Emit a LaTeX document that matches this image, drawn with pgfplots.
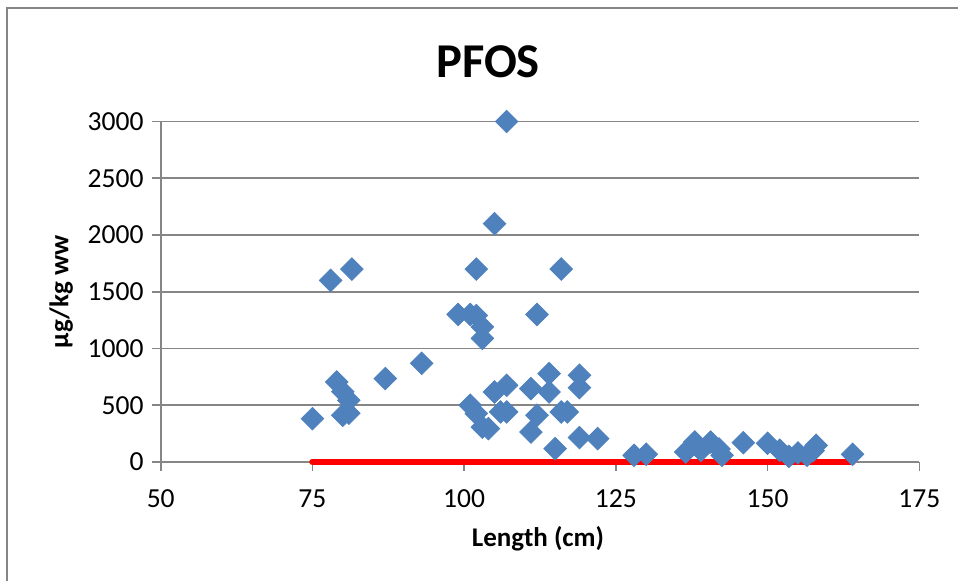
\documentclass[border=0pt]{standalone}
\usepackage{fontspec}
\setmainfont{Carlito}
\usepackage{pgfplots}
\pgfplotsset{compat=1.18}
\definecolor{xlblue}{HTML}{4F81BD}
\definecolor{xlgray}{HTML}{868686}
\begin{document}
\begin{tikzpicture}
\path[use as bounding box] (0,0) rectangle (354.81pt,214.81pt);
\draw[xlgray, line width=0.8pt] (2.59pt,-2pt) -- (2.59pt,211.85pt) -- (357pt,211.85pt);
\begin{axis}[
  at={(59.52pt,43.70pt)}, anchor=south west, scale only axis,
  width=280.96pt, height=126.11pt,
  xmin=50, xmax=175, ymin=0, ymax=3000,
  xtick={50,75,100,125,150,175}, ytick={0,500,1000,1500,2000,2500,3000},
  axis x line=bottom, axis y line=left,
  axis line style={xlgray, line width=0.6pt, -},
  tick align=outside, major tick length=3.33pt,
  tick style={xlgray, line width=0.6pt},
  ymajorgrids, grid style={xlgray, line width=0.6pt},
  font=\fontsize{10}{12}\selectfont,
  ticklabel style={font=\fontsize{10.2}{12}\selectfont, text=black},
  xticklabel style={yshift=-3.5pt},
  yticklabel style={xshift=0.5pt},
  /pgf/number format/assume math mode=true,
  scaled y ticks=false, /pgf/number format/1000 sep={},
  clip=false,
]
\addplot[red, line width=2.4pt, line cap=round] coordinates {(75,0) (164,0)};
\addplot[only marks, mark=square*, mark size=2.95pt,
  mark options={rotate=45, fill=xlblue, draw=xlblue, line width=0.3pt}]
  table {
x y
75 382
78 1600
81.5 1700
79 705
80 620
81 544
80 412
81 430
87 735
93 870
99 1300
101 1300
102 1290
103 1190
103 1090
102 1700
105 2100
107 3000
116 1700
112 1300
101 500
102 427
103 308
104 294
105 617
107 676
106 441
107 441
111 647
114 779
114 617
112 412
111 264
116 441
117 441
119 764
119 655
115 118
119 215
122 206
128 59
130 68
136.5 88
138 176
139 103
140.6 176
142.5 59
142 115
146 170
150 165
152 103
153.5 50
155 80
156.5 59
158 147
157.5 100
164 68
};
\end{axis}
\node[anchor=base, font=\fontsize{18}{21}\selectfont\bfseries] at (180.74pt,185.93pt) {PFOS};
\node[anchor=base, font=\fontsize{10}{12}\selectfont\bfseries] at (199.26pt,12.59pt) {Length (cm)};
\node[anchor=base, rotate=90, font=\fontsize{10}{12}\selectfont\bfseries] at (25.3pt,106.76pt) {µg/kg ww};
\end{tikzpicture}
\end{document}
